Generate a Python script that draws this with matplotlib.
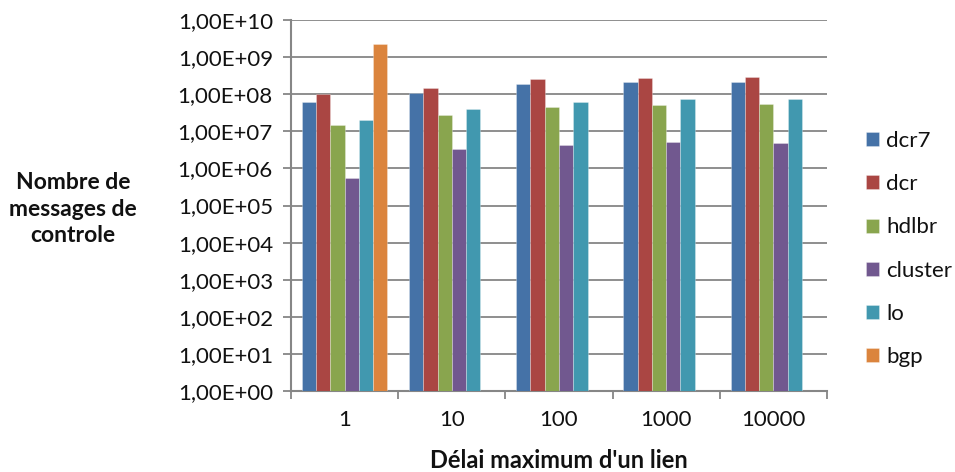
import numpy as np
import matplotlib
matplotlib.use("Agg")
import matplotlib.pyplot as plt
from matplotlib.ticker import FixedLocator, FuncFormatter, NullFormatter
from matplotlib.patches import Patch

plt.rcParams['font.family'] = ['Lato', 'DejaVu Sans']

# data
delays = ['1', '10', '100', '1000', '10000']
series = ['dcr7', 'dcr', 'hdlbr', 'cluster', 'lo', 'bgp']
dcr7 = [6.2e7, 1.05e8, 1.86e8, 2.1e8, 2.1e8]
dcr = [1.0e8, 1.48e8, 2.6e8, 2.8e8, 2.9e8]
hdlbr = [1.45e7, 2.8e7, 4.5e7, 5.1e7, 5.4e7]
cluster = [5.5e5, 3.3e6, 4.2e6, 5.0e6, 4.8e6]
lo = [2.0e7, 3.9e7, 6.2e7, 7.2e7, 7.2e7]
bgp = [2.2e9, None, None, None, None]
colors = ['#4572A7', '#AA4643', '#89A54E', '#71588F', '#4198AF', '#DB843D']

values = [dcr7, dcr, hdlbr, cluster, lo, bgp]
grid_col = '#868686'
txt_col = '#111111'
fs = 16

fig = plt.figure(figsize=(9.55, 4.72), dpi=100)
ax = fig.add_axes([291/955, 1-391/472, (827-291)/955, (391-20)/472])

x = np.arange(len(delays))
w = 0.133
for i, (vals, col) in enumerate(zip(values, colors)):
    xs = [xx + (i - 2.5) * w for xx, v in zip(x, vals) if v is not None]
    hs = [v - 1 for v in vals if v is not None]
    ax.bar(xs, hs, width=w, bottom=1, color=col, edgecolor='#ffffff55',
           linewidth=0.6, zorder=3)

ax.set_yscale('log')
ax.set_ylim(1, 1e10)
ax.set_xlim(-0.5, len(delays) - 0.5)

ax.yaxis.set_major_locator(FixedLocator([10.0**k for k in range(11)]))
ax.yaxis.set_minor_locator(FixedLocator([]))
ax.yaxis.set_major_formatter(FuncFormatter(lambda v, p: "1,00E+%02d" % round(np.log10(v))))
ax.grid(axis='y', color=grid_col, linewidth=1.3, zorder=0)

ax.set_xticks(x)
ax.set_xticklabels(delays)
ax.set_xticks(np.arange(len(delays) + 1) - 0.5, minor=True)
ax.xaxis.set_minor_formatter(NullFormatter())
ax.tick_params(axis='x', which='major', length=0, pad=14, labelsize=fs, colors=txt_col)
ax.tick_params(axis='x', which='minor', length=6, width=1.3, color=grid_col)
ax.tick_params(axis='y', which='major', length=6, width=1.3, color=grid_col,
               labelsize=fs, labelcolor=txt_col, pad=7)

for s in ['top', 'right']:
    ax.spines[s].set_visible(False)
for s in ['left', 'bottom']:
    ax.spines[s].set_color(grid_col)
    ax.spines[s].set_linewidth(1.5)

fig.text(73/955, 1-209/472, "Nombre de\nmessages de\ncontrole", ha='center', va='center',
         multialignment='center', fontsize=16.5, fontweight='bold', linespacing=1.33, color=txt_col)
fig.text(559/955, 1-461/472, "Délai maximum d'un lien", ha='center', va='center',
         fontsize=17, fontweight='bold', color=txt_col)

handles = [Patch(facecolor=c, edgecolor='#ffffff55', linewidth=0.6) for c in colors]
fig.legend(handles, series, loc='center left', bbox_to_anchor=(866/955, 1-249/472),
           frameon=False, fontsize=fs, handlelength=0.6, handleheight=0.6,
           handletextpad=0.32, labelspacing=1.045, borderpad=0, borderaxespad=0,
           labelcolor=txt_col)

fig.savefig('out.png', dpi=100)
